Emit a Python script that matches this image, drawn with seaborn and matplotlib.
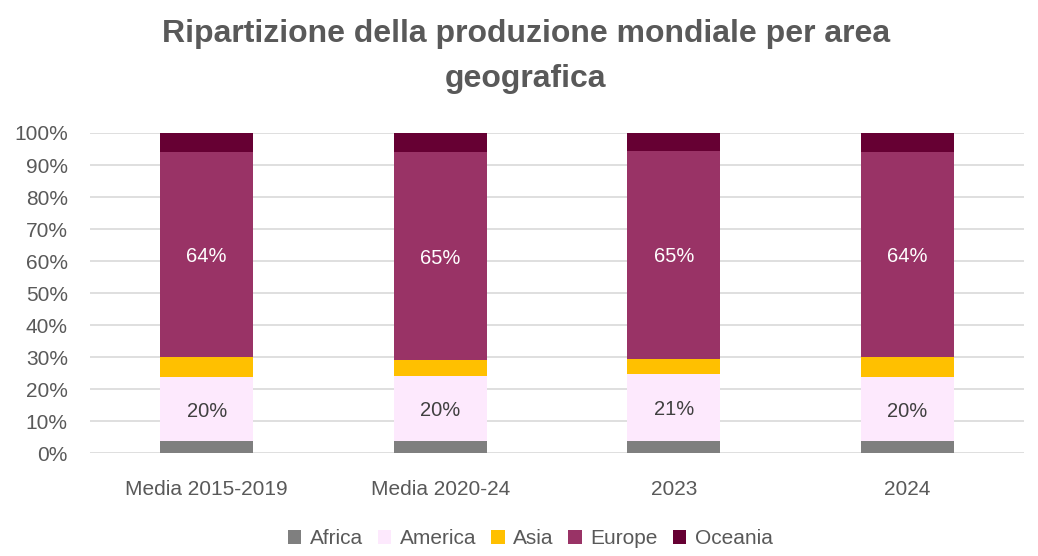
import numpy as np
import matplotlib
matplotlib.use("Agg")
import matplotlib.pyplot as plt
import seaborn as sns
from matplotlib.patches import Patch

categories = ["Media 2015-2019", "Media 2020-24", "2023", "2024"]
africa = [3.9, 3.7, 3.9, 3.9]
america = [19.8, 20.4, 21.0, 19.8]
asia = [6.5, 4.9, 4.6, 6.5]
europe = [64.0, 65.0, 65.0, 64.0]
oceania = [5.8, 6.0, 5.5, 5.8]

series_names = ["Africa", "America", "Asia", "Europe", "Oceania"]
series_values = [africa, america, asia, europe, oceania]
colors = ["#7F7F7F", "#FDE9FD", "#FFC000", "#993366", "#660033"]
labelled = {"America": "#404040", "Europe": "#FFFFFF"}

sns.set_theme(style="white")
plt.rcParams["font.family"] = ["Liberation Sans", "DejaVu Sans"]

TEXT = "#595959"
W, H = 1038, 556
fig, ax = plt.subplots(figsize=(W / 100, H / 100), dpi=100)
fig.subplots_adjust(left=0.0867, right=0.9865, top=0.7608, bottom=0.1847)

bottom = np.zeros(len(categories))
for name, vals, col in zip(series_names, series_values, colors):
    vals = np.asarray(vals, dtype=float)
    sns.barplot(x=categories, y=vals, bottom=bottom, color=col, width=0.4,
                ax=ax, linewidth=0, saturation=1)
    if name in labelled:
        for i, v in enumerate(vals):
            ax.text(i, bottom[i] + v / 2, f"{v:.0f}%", ha="center",
                    va="center_baseline", fontsize=14.5, color=labelled[name])
    bottom += vals

ax.set_ylim(0, 100)
ax.set_xlim(-0.5, len(categories) - 0.5)
ax.set_yticks(np.arange(0, 101, 10))
ax.set_yticklabels([f"{t}%" for t in range(0, 101, 10)])
ax.yaxis.grid(True, color="#D9D9D9", linewidth=1.2)
ax.set_axisbelow(True)
for s in ax.spines.values():
    s.set_visible(False)
ax.tick_params(axis="both", labelsize=15, colors=TEXT, length=0)
ax.tick_params(axis="y", pad=16)
ax.tick_params(axis="x", pad=19)
ax.set_xlabel("")
ax.set_ylabel("")

# Two-line title, each line placed on its own baseline
title_lines = ["Ripartizione della produzione mondiale per area", "geografica"]
for line, base in zip(title_lines, [42, 87]):
    fig.text(526 / W, 1 - base / H, line, ha="center", va="baseline",
             fontsize=23, fontweight="bold", color=TEXT)

handles = [Patch(facecolor=c, edgecolor="none") for c in colors]
fig.legend(handles, series_names, loc="center", ncol=5, frameon=False,
           fontsize=15, labelcolor=TEXT, bbox_to_anchor=(530 / W, 1 - 539 / H),
           handlelength=0.65, handleheight=0.65, handletextpad=0.4,
           columnspacing=0.72)

fig.savefig("out.png", dpi=100)
